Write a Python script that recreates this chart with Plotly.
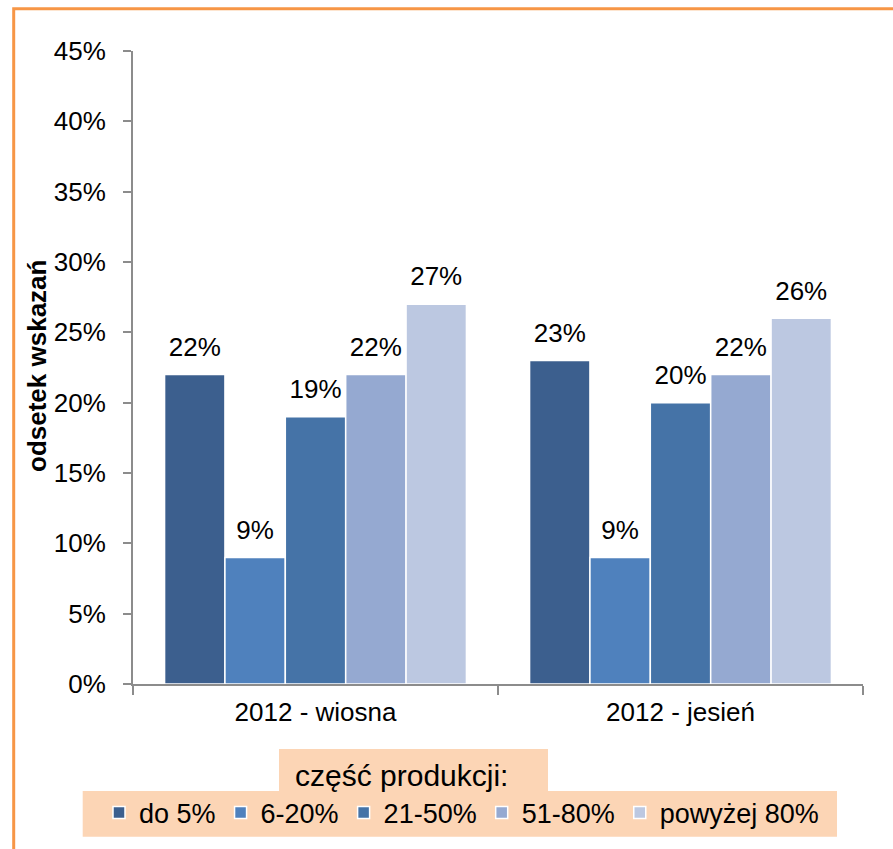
import plotly.graph_objects as go

categories = ["2012 - wiosna", "2012 - jesień"]
series_names = ["do 5%", "6-20%", "21-50%", "51-80%", "powyżej 80%"]
series_values = [
    [0.22, 0.23],
    [0.09, 0.09],
    [0.19, 0.20],
    [0.22, 0.22],
    [0.27, 0.26],
]
colors = ["#3C5F8E", "#4F81BD", "#4573A7", "#95A9D1", "#BCC8E1"]
y_ticks = [0, 0.05, 0.10, 0.15, 0.20, 0.25, 0.30, 0.35, 0.40, 0.45]
y_title = "odsetek wskazań"
legend_title = "część produkcji:"

W, H = 893, 849
ML, MR, MT, MB = 133, 30, 51, 165
PW, PH = W - ML - MR, H - MT - MB


def px_x(p):
    return (p - ML) / PW


def px_y(p):
    return (H - MB - p) / PH


FONT = "Liberation Sans, Arial, sans-serif"
fig = go.Figure()

for name, vals, col in zip(series_names, series_values, colors):
    fig.add_trace(go.Bar(
        name=name, x=categories, y=vals, offsetgroup=name,
        marker=dict(color=col, line=dict(color="white", width=1.5)),
        hoverinfo="skip",
    ))

for name, vals in zip(series_names, series_values):
    fig.add_trace(go.Scatter(
        x=categories, y=vals, offsetgroup=name, mode="markers+text",
        marker=dict(size=18, opacity=0),
        text=[f"{round(v*100)}%" for v in vals],
        textposition="top center",
        textfont=dict(size=26, color="#000000", family=FONT),
        showlegend=False, hoverinfo="skip", cliponaxis=False,
    ))

shapes = [
    # orange outer frame
    dict(type="rect", xref="paper", yref="paper",
         x0=px_x(13.7), x1=px_x(W + 20), y0=px_y(H + 20), y1=px_y(8.7),
         line=dict(color="#F79646", width=3), fillcolor="rgba(0,0,0,0)", layer="below"),
    # legend title box
    dict(type="rect", xref="paper", yref="paper",
         x0=px_x(279), x1=px_x(548), y0=px_y(791), y1=px_y(749),
         line=dict(width=0), fillcolor="#FCD5B5", layer="below"),
    # legend box
    dict(type="rect", xref="paper", yref="paper",
         x0=px_x(82.7), x1=px_x(837), y0=px_y(836.7), y1=px_y(791),
         line=dict(width=0), fillcolor="#FCD5B5", layer="below"),
]

annotations = [
    dict(text=legend_title, xref="paper", yref="paper", x=px_x(401.5), y=px_y(775),
         xanchor="center", yanchor="middle", showarrow=False,
         font=dict(size=30, color="#000000", family=FONT)),
    dict(text=f"<b>{y_title}</b>", xref="paper", yref="paper", x=px_x(37), y=px_y(366),
         xanchor="center", yanchor="middle", textangle=-90, showarrow=False,
         font=dict(size=26, color="#000000", family=FONT)),
]

fig.update_layout(
    width=W, height=H,
    margin=dict(l=ML, r=MR, t=MT, b=MB, autoexpand=False),
    paper_bgcolor="white", plot_bgcolor="white",
    barmode="group", bargap=0.173, bargroupgap=0,
    scattermode="group", scattergap=0.173,
    font=dict(family=FONT, size=26, color="#000000"),
    showlegend=True,
    legend=dict(orientation="h", x=px_x(99), xanchor="left", y=px_y(813), yanchor="middle",
                bgcolor="rgba(0,0,0,0)", font=dict(size=27, family=FONT, color="#000000"),
                traceorder="normal", itemclick=False, itemdoubleclick=False),
    shapes=shapes, annotations=annotations,
    xaxis=dict(showline=True, linecolor="#8C8C8C", linewidth=2, ticks="outside",
               tickson="boundaries", ticklen=9, tickcolor="#8C8C8C", tickwidth=2,
               showgrid=False, tickfont=dict(size=26, family=FONT), ticklabelstandoff=4),
    yaxis=dict(range=[0, 0.45], tickvals=y_ticks, tickformat=".0%", showline=True,
               linecolor="#8C8C8C", linewidth=2, ticks="outside", ticklen=8,
               tickcolor="#8C8C8C", tickwidth=2, showgrid=False, zeroline=False,
               tickfont=dict(size=26, family=FONT), ticklabelstandoff=12),
)

fig.write_html("out.html", config={"displayModeBar": False},
               post_script="document.body.style.margin='0';")
